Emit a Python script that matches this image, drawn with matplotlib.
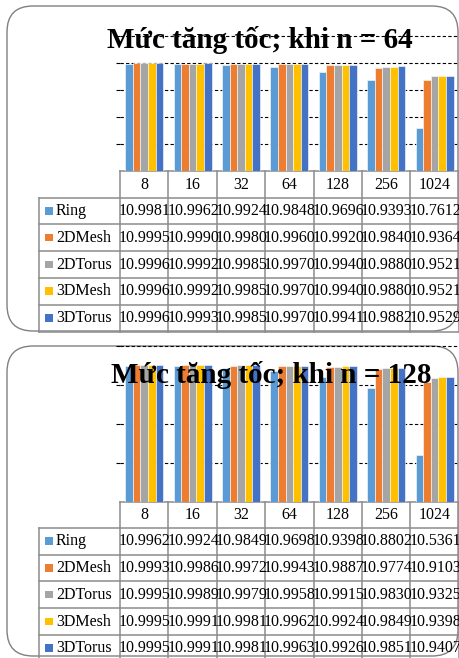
import matplotlib
matplotlib.use("Agg")
import matplotlib.pyplot as plt
import numpy as np
from matplotlib.patches import FancyBboxPatch, Rectangle

sizes = ["8", "16", "32", "64", "128", "256", "1024"]
topologies = ["Ring", "2DMesh", "2DTorus", "3DMesh", "3DTorus"]
colors = ["#5B9BD5", "#ED7D31", "#A5A5A5", "#FFC000", "#4472C4"]

# speedup when n = 64
ring_64 = [0.9981, 0.9962, 0.9924, 0.9848, 0.9696, 0.9393, 0.7612]
mesh2d_64 = [0.9995, 0.9990, 0.9980, 0.9960, 0.9920, 0.9840, 0.9364]
torus2d_64 = [0.9996, 0.9992, 0.9985, 0.9970, 0.9940, 0.9880, 0.9521]
mesh3d_64 = [0.9996, 0.9992, 0.9985, 0.9970, 0.9940, 0.9880, 0.9521]
torus3d_64 = [0.9996, 0.9993, 0.9985, 0.9970, 0.9941, 0.9882, 0.9529]

# speedup when n = 128
ring_128 = [0.9962, 0.9924, 0.9849, 0.9698, 0.9398, 0.8802, 0.5361]
mesh2d_128 = [0.9993, 0.9986, 0.9972, 0.9943, 0.9887, 0.9774, 0.9103]
torus2d_128 = [0.9995, 0.9989, 0.9979, 0.9958, 0.9915, 0.9830, 0.9325]
mesh3d_128 = [0.9995, 0.9991, 0.9981, 0.9962, 0.9924, 0.9849, 0.9398]
torus3d_128 = [0.9995, 0.9991, 0.9981, 0.9963, 0.9926, 0.9851, 0.9407]

W, H = 459, 658
serif = "Liberation Serif"
grid_col = "#8c8c8c"

fig = plt.figure(figsize=(W / 100, H / 100), dpi=100)
bg = fig.add_axes([0, 0, 1, 1])
bg.set_xlim(0, W)
bg.set_ylim(H, 0)
bg.axis("off")


def px_axes(x0, y0, x1, y1):
    return fig.add_axes([x0 / W, 1 - y1 / H, (x1 - x0) / W, (y1 - y0) / H])


x_left, col_w = 120, 48.4
lab_left = 39.3
row_h = 26.8


def panel(box, ax_top, ax_bot, ylim, yticks, series, title, title_xy):
    bx, by, bw, bh = box
    bg.add_patch(FancyBboxPatch((bx, by), bw, bh, boxstyle="round,pad=0,rounding_size=26",
                                fc="white", ec="#808080", lw=1.0))

    ax = px_axes(x_left, ax_top, x_left + 7 * col_w, ax_bot)
    ax.patch.set_alpha(0)
    x = np.arange(len(sizes))
    w = 0.157
    for i, vals in enumerate(series):
        ax.bar(x + (i - 2) * w, vals, w, color=colors[i], edgecolor="white", lw=0.4)
    ax.set_xlim(-0.5, 6.5)
    ax.set_ylim(*ylim)
    ax.set_yticks(yticks)
    ax.set_axisbelow(True)
    ax.grid(axis="y", color="black", linestyle=(0, (3, 2)), lw=0.8)
    ax.tick_params(axis="y", length=3, width=0.8, color="black", labelleft=False)
    ax.tick_params(axis="x", length=0, labelbottom=False)
    for s in ax.spines.values():
        s.set_visible(False)

    # data table under the plot
    top = ax_bot
    nrows = len(topologies)
    bottom = top + row_h * (nrows + 1) - 0.5
    bg.plot([x_left, W], [top, top], color=grid_col, lw=1.1)
    for r in range(nrows + 1):
        yy = top + row_h * (r + 1) - 0.5
        bg.plot([lab_left, W], [yy, yy], color=grid_col, lw=1.1)
    bg.plot([lab_left, lab_left], [top + row_h - 0.5, bottom], color=grid_col, lw=1.1)
    for c in range(8):
        xx = x_left + c * col_w
        bg.plot([xx, xx], [top, bottom], color=grid_col, lw=1.1)
    for c, s in enumerate(sizes):
        bg.text(x_left + (c + 0.5) * col_w, top + row_h / 2, s, ha="center", va="center",
                family=serif, fontsize=11.5)
    for r, (name, vals) in enumerate(zip(topologies, series)):
        yc = top + row_h * (r + 1.5) - 0.5
        bg.add_patch(Rectangle((45, yc - 4), 7.5, 7.5, color=colors[r], lw=0))
        bg.text(56, yc, name, ha="left", va="center", family=serif, fontsize=11.5)
        for c, v in enumerate(vals):
            bg.text(x_left + (c + 0.5) * col_w + 0.5, yc, "1" + f"{v:.4f}", ha="center",
                    va="center", family=serif, fontsize=11.5)

    fig.text(title_xy[0] / W, 1 - title_xy[1] / H, title, ha="center", va="baseline",
             family=serif, weight="bold", fontsize=21, zorder=10)


panel((7, 6, 451, 325), 30.9, 171.3, (0.6, 1.12), [0.7, 0.8, 0.9, 1.0, 1.1],
      [ring_64, mesh2d_64, torus2d_64, mesh3d_64, torus3d_64],
      "Mức tăng tốc; khi n = 64", (259.5, 48))
panel((7, 346, 451, 310), 341.6, 501.5, (0.3, 1.12), [0.5, 0.7, 0.9, 1.1],
      [ring_128, mesh2d_128, torus2d_128, mesh3d_128, torus3d_128],
      "Mức tăng tốc; khi n = 128", (271.5, 383))

fig.savefig("out.png", dpi=100)
